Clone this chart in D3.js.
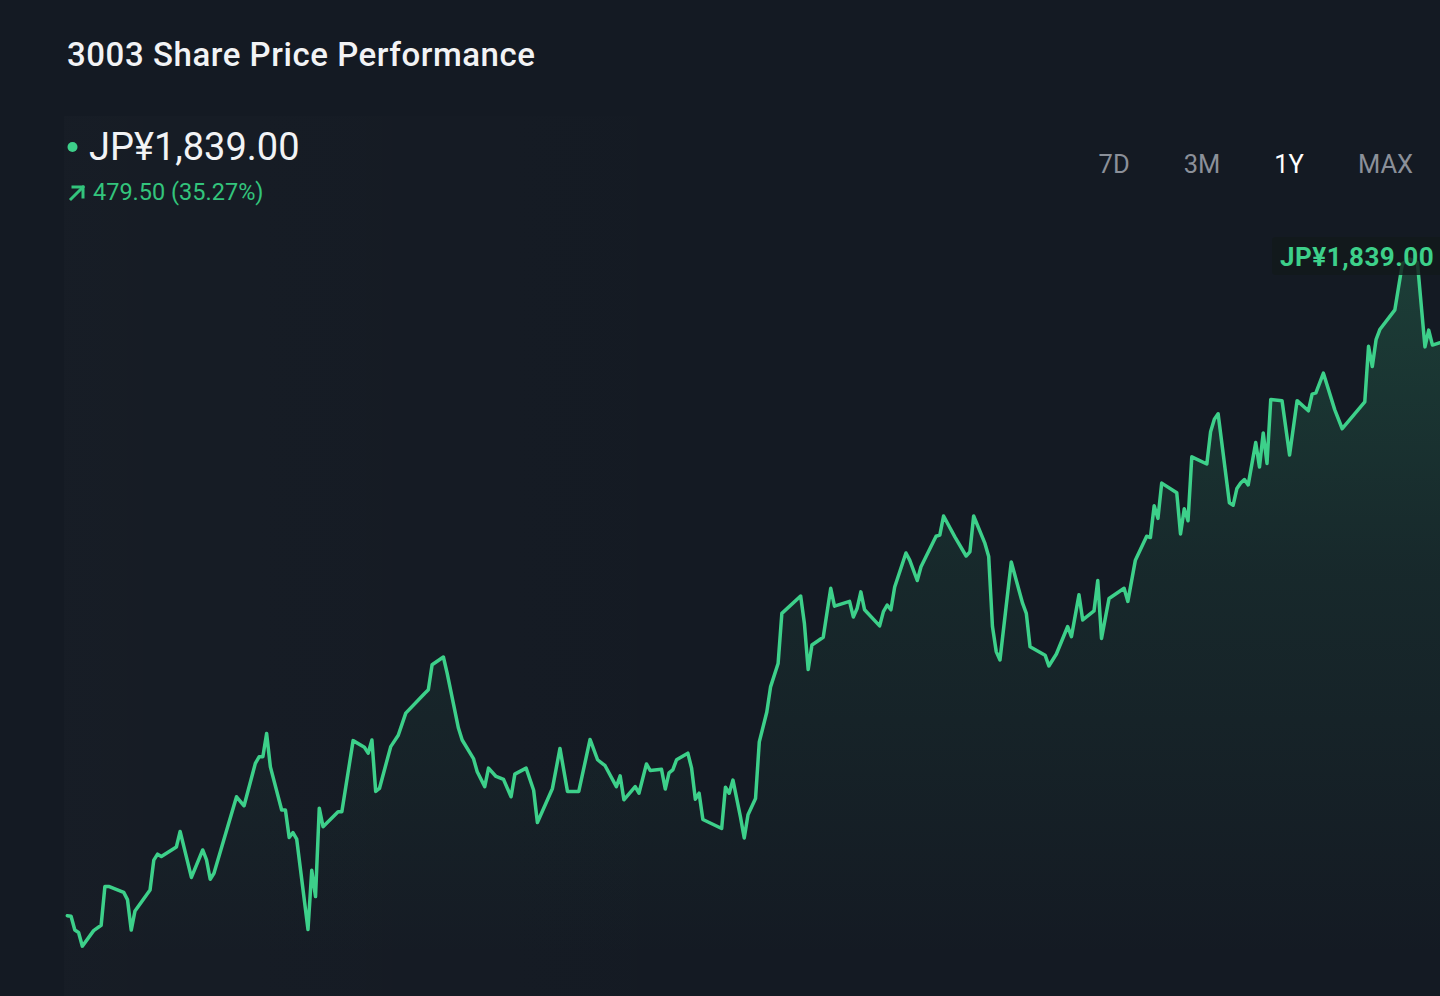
<!DOCTYPE html>
<html>
<head>
<meta charset="utf-8">
<script src="https://cdn.jsdelivr.net/npm/d3@7"></script>
<style>
  html, body { margin: 0; padding: 0; background: #141a23; overflow: hidden; }
  svg { display: block; font-family: Roboto, "Noto Sans", sans-serif; }
</style>
</head>
<body>
<svg id="chart" width="1440" height="996"></svg>
<script>
// ---- data ----
const title = "3003 Share Price Performance";
const currentPrice = "JP¥1,839.00";
const changeText = "479.50 (35.27%)";
const ranges = ["7D", "3M", "1Y", "MAX"];
const activeRange = "1Y";

// day offset within the 1-year window
const days = [0,1,2,3,4,7,9,10,11,15,16,17,18,22,23,24,25,29,30,33,36,37,38,39,45,47,50,51,52,53,54,57,58,59,60,61,64,65,66,67,68,72,73,76,79,80,81,82,83,86,88,90,95,96,97,100,101,104,105,108,109,111,112,114,116,118,119,122,124,125,129,131,133,136,139,141,143,146,147,148,151,152,154,155,158,159,160,161,162,165,166,167,168,169,174,175,176,177,179,180,181,183,184,186,187,189,190,195,196,197,198,201,203,204,208,209,210,211,212,216,217,218,219,220,223,224,226,227,231,232,233,236,239,240,241,244,245,246,247,248,251,254,255,256,260,261,263,266,267,269,270,273,274,275,277,281,282,284,287,288,289,290,291,295,296,297,298,299,303,304,305,306,309,310,311,312,313,314,316,317,318,319,320,323,325,327,330,331,332,334,337,339,345,346,347,348,349,353,355,357,359,361,362,363,365];
// closing price, JP¥
const prices = [1359.5,1359,1347.5,1345.5,1334,1347,1351.5,1384,1384,1379,1373,1347.5,1363.5,1381,1406,1411,1409,1417,1430,1391.5,1414.5,1406.5,1390,1395,1459,1451.5,1487,1492.5,1492.5,1512,1484,1448,1448,1425,1429,1423.5,1348,1397.5,1375.5,1449.5,1434,1446.5,1446.5,1506,1500.5,1495.5,1506.5,1463.5,1466,1501,1510.5,1529,1545.5,1548.5,1569.5,1576,1562.5,1516.5,1506.5,1491,1480,1467.5,1483,1476,1473.5,1459,1478,1483,1464.5,1437.5,1466,1499.5,1463.5,1463.5,1507,1490,1485,1467.5,1476.5,1456.5,1467.5,1462,1486.5,1481,1482,1465.5,1479,1481.5,1490,1495.5,1483,1457,1462,1440,1432.5,1467,1462,1473,1442,1424.5,1444,1457.5,1505,1530,1551,1570.5,1612.5,1627,1604,1565.5,1586,1592.5,1633.5,1618.5,1622.5,1609.5,1616.5,1630.5,1615.5,1602,1614,1619.5,1615.5,1634.5,1663,1657,1640,1651.5,1677,1678,1694,1676.5,1660.5,1664,1694,1671,1660,1601.5,1580.5,1573.5,1655.5,1621,1612.5,1584.5,1577.5,1568.5,1578.5,1601.5,1593,1628,1607,1614.5,1640,1591.5,1625,1633.5,1622.5,1657,1677,1676,1702.5,1692,1721.5,1713.5,1679,1700,1690,1743.5,1737.5,1764.5,1775,1779.5,1705,1703,1717,1721.5,1724.5,1720,1755.5,1735,1763.5,1738,1791.5,1790.5,1745,1790.5,1782,1796,1797,1813.5,1783,1767,1789.5,1836,1819,1841.5,1850,1866.5,1905,1909,1906,1835.5,1849.5,1837,1839];

const data = days.map((d, i) => ({ day: d, price: prices[i] }));

// ---- drawing ----
const svg = d3.select("#chart");
const W = 1440, H = 996;
const green = "#3dd08a";

const defs = svg.append("defs");
const areaGrad = defs.append("linearGradient")
  .attr("id", "areaGrad").attr("gradientUnits", "userSpaceOnUse")
  .attr("x1", 0).attr("x2", 0).attr("y1", 250).attr("y2", 960);
areaGrad.append("stop").attr("offset", 0).attr("stop-color", green).attr("stop-opacity", 0.2);
areaGrad.append("stop").attr("offset", 0.45).attr("stop-color", green).attr("stop-opacity", 0.08);
areaGrad.append("stop").attr("offset", 1).attr("stop-color", green).attr("stop-opacity", 0);

const panelGrad = defs.append("linearGradient")
  .attr("id", "panelGrad").attr("x1", 0).attr("x2", 1).attr("y1", 0).attr("y2", 0);
panelGrad.append("stop").attr("offset", 0).attr("stop-color", "#ffffff").attr("stop-opacity", 0.012);
panelGrad.append("stop").attr("offset", 1).attr("stop-color", "#ffffff").attr("stop-opacity", 0);

svg.append("rect").attr("width", W).attr("height", H).attr("fill", "#141a23");
svg.append("rect").attr("x", 64).attr("y", 116).attr("width", 700).attr("height", H - 116)
  .attr("fill", "url(#panelGrad)");

// title
svg.append("text").attr("x", 67).attr("y", 66)
  .attr("fill", "#f2f3f5").attr("font-size", 33).attr("font-weight", 500)
  .attr("letter-spacing", 0.55)
  .text(title);

// current price
svg.append("circle").attr("cx", 72.5).attr("cy", 147).attr("r", 5).attr("fill", green);
svg.append("text").attr("x", 89).attr("y", 160)
  .attr("fill", "#f2f3f5").attr("font-size", 38).attr("font-weight", 400)
  .text(currentPrice);

// change line with arrow
const arrow = svg.append("g").attr("transform", "translate(70,185)")
  .attr("stroke", "#33c47c").attr("stroke-width", 3).attr("fill", "none").attr("stroke-linecap", "square");
arrow.append("path").attr("d", "M1,14 L13,2");
arrow.append("path").attr("d", "M3,2 L13,2 L13,12");
svg.append("text").attr("x", 93).attr("y", 200)
  .attr("fill", "#33c47c").attr("font-size", 23.5)
  .text(changeText);

// range buttons: right-aligned row with equal gaps
const btnGap = 54, btnRight = 1413;
const btns = svg.append("g").selectAll("text").data(ranges).join("text")
  .attr("y", 173).attr("font-size", 25.5)
  .attr("fill", d => d === activeRange ? "#ffffff" : "#8b9099")
  .text(d => d);
const widths = [];
btns.each(function () { widths.push(this.getComputedTextLength()); });
let cursor = btnRight;
const lefts = new Array(ranges.length);
for (let i = ranges.length - 1; i >= 0; i--) {
  lefts[i] = cursor - widths[i];
  cursor = lefts[i] - btnGap;
}
btns.attr("x", (d, i) => lefts[i]);

// scales
const x = d3.scaleLinear().domain([0, 365]).range([67.3, 1440]);
const y = d3.scaleLinear().domain([1300, 1900]).range([986.8, 269.8]);

const area = d3.area().x(d => x(d.day)).y0(H).y1(d => y(d.price));
const line = d3.line().x(d => x(d.day)).y(d => y(d.price));

svg.append("path").datum(data).attr("d", area).attr("fill", "url(#areaGrad)");
svg.append("path").datum(data).attr("d", line)
  .attr("fill", "none").attr("stroke", green).attr("stroke-width", 3.5)
  .attr("stroke-linejoin", "round").attr("stroke-linecap", "round");

// price tag
const tag = svg.append("g");
tag.append("rect").attr("x", 1272).attr("y", 237).attr("width", 180).attr("height", 38).attr("rx", 4)
  .attr("fill", "#121a1b").attr("opacity", 0.82);
tag.append("text").attr("x", 1280).attr("y", 266)
  .attr("fill", green).attr("font-size", 26).attr("font-weight", 700)
  .attr("letter-spacing", 0.5)
  .text(currentPrice);
</script>
</body>
</html>
